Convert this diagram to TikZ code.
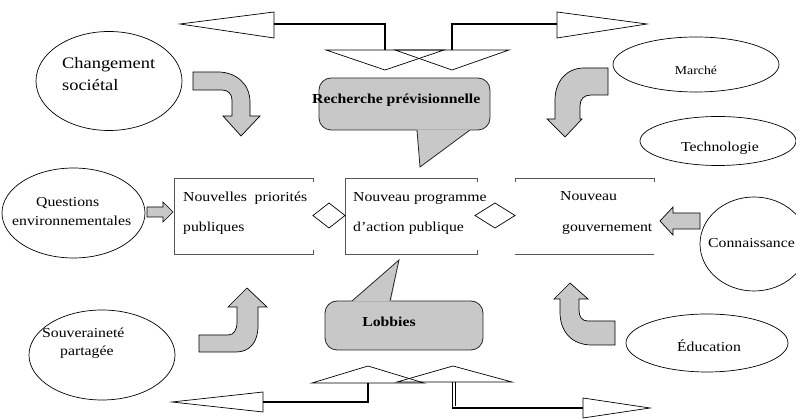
\documentclass[tikz,border=0pt]{standalone}
\usepackage{fontspec}
\setmainfont{Liberation Serif}[FakeStretch=1.15]
\usetikzlibrary{shapes.geometric}
\definecolor{arrowgray}{RGB}{200,200,200}
\definecolor{boxline}{RGB}{85,85,85}
\tikzset{
  oval/.style={ellipse, draw=black, line width=0.7pt, inner sep=0pt},
  lbl/.style={inner sep=0pt, font=\fontsize{13.7}{16}\selectfont},
  boldlbl/.style={inner sep=0pt, font=\fontsize{13.7}{16}\selectfont\bfseries},
  bentarrow/.style={draw=black, fill=arrowgray, line width=0.7pt, line join=miter},
  opentri/.style={draw=black, line width=0.7pt},
  linkline/.style={draw=black, line width=1.3pt},
  boxside/.style={draw=boxline, line width=0.9pt},
  diam/.style={draw=black, line width=0.7pt},
  calloutfill/.style={fill=arrowgray},
  calloutline/.style={draw=black!85, line width=0.8pt},
}
\begin{document}
\begin{tikzpicture}[x=1pt,y=-1pt]
\clip (0,0) rectangle (796,419);

% ---------- ellipses ----------
\node[oval, minimum width=146pt, minimum height=99pt] (chg) at (109,81) {};
\node[oval, minimum width=166pt, minimum height=55pt] (mar) at (696,64.5) {};
\node[oval, minimum width=156pt, minimum height=49pt] (tec) at (718,141) {};
\node[oval, minimum width=143pt, minimum height=90pt] (que) at (73.5,213) {};
\node[oval, minimum width=108pt, minimum height=94pt] (con) at (754,244) {};
\node[oval, minimum width=146pt, minimum height=90pt] (sou) at (102,355) {};
\node[oval, minimum width=162pt, minimum height=58pt] (edu) at (707,343) {};

% ---------- ellipse texts ----------
\node[lbl, font=\fontsize{16}{18}\selectfont, anchor=base west] (chgA) at (62,69) {Changement};
\node[lbl, font=\fontsize{16}{18}\selectfont, anchor=base west] (chgB) at (62,91) {sociétal};
\node[lbl, font=\fontsize{12}{14}\selectfont, anchor=base] (marT) at (696,75) {Marché};
\node[lbl, anchor=base] (tecT) at (720,152) {Technologie};
\node[lbl, anchor=base west] (queA) at (36,207) {Questions};
\node[lbl, anchor=base west] (queB) at (12,226) {environnementales};
\node[lbl, anchor=base west] (conT) at (708,248) {Connaissance};
\node[lbl, anchor=base west] (souA) at (42,338) {Souveraineté};
\node[lbl, anchor=base west] (souB) at (60,356) {partagée};
\node[lbl, anchor=base] (eduT) at (709,352) {Éducation};

% ---------- boxes ----------
\draw[boxside] (313,182) -- (313,178) -- (174,178) -- (174,254) -- (313,254) -- (313,250);
\draw[boxside] (477,182) -- (477,178) -- (345,178) -- (345,254) -- (477,254) -- (477,250);
\draw[boxside] (515,182) -- (515,178) -- (654,178) -- (654,182);
\draw[boxside] (515,254) -- (654,254);
\node[lbl, anchor=base west] (b1A) at (183,202) {\hbox to 124pt{Nouvelles\hfill priorités}};
\node[lbl, anchor=base west] (b1B) at (183,232) {publiques};
\node[lbl, anchor=base west] (b2A) at (353,202) {Nouveau programme};
\node[lbl, anchor=base west] (b2B) at (353,232) {d’action publique};
\node[lbl, anchor=base west] (b3A) at (560,201) {Nouveau};
\node[lbl, anchor=base west] (b3B) at (562,232) {gouvernement};

% ---------- diamonds ----------
\draw[diam] (313,215.5) -- (329,203) -- (345,215.5) -- (329,228) -- cycle;
\draw[diam] (475,215.5) -- (495,203) -- (515,215.5) -- (495,228) -- cycle;

% ---------- bent block arrows ----------
% Changement societal -> down
\draw[bentarrow] (193,72) -- (218,72) .. controls (236,72) and (250,84) .. (250,102)
  -- (250,116) -- (260,116) -- (241,136) -- (223,116) -- (232,116) -- (232,100)
  .. controls (232,94) and (228,90) .. (222,90) -- (193,90) -- cycle;
% Marche -> down-left
\draw[bentarrow] (608,68) -- (584,68) .. controls (566,68) and (555,82) .. (555,100)
  -- (555,119) -- (547,119) -- (565,137) -- (582,119) -- (580,119) -- (580,106)
  .. controls (580,99) and (584,95) .. (591,95) -- (608,95) -- cycle;
% Souverainete -> up
\draw[bentarrow] (199,335) -- (228,335) .. controls (234,335) and (237,330) .. (237,322)
  -- (237,307) -- (228,307) -- (247,288) -- (267,307) -- (258,307) -- (258,326)
  .. controls (258,342) and (250,352) .. (236,352) -- (199,352) -- cycle;
% Education -> up-left
\draw[bentarrow] (615,321) -- (588,321) .. controls (582,321) and (579,317) .. (579,310)
  -- (579,299) -- (588,299) -- (570,283) -- (554,299) -- (560,299) -- (560,312)
  .. controls (560,332) and (572,345) .. (592,345) -- (615,345) -- cycle;
% small arrows
\draw[bentarrow] (147,207) -- (163,207) -- (163,202) -- (173,212) -- (163,222) -- (163,217) -- (147,217) -- cycle;
\draw[bentarrow] (700,213) -- (673,213) -- (673,207) -- (660,221) -- (673,235) -- (673,229) -- (700,229) -- cycle;

% ---------- callouts ----------
\path[calloutfill, rounded corners=12pt] (319,78) rectangle (490,130);
\draw[calloutline, rounded corners=12pt] (319,78) rectangle (490,130);
\fill[arrowgray] (416.5,129.3) -- (420,167) -- (471,129.3) -- cycle;
\draw[calloutline] (417,130) -- (420,167) -- (470,130);
\node[boldlbl, anchor=base west] (rech) at (312,104) {Recherche prévisionnelle};

\path[calloutfill, rounded corners=12pt] (325,301) rectangle (483,350);
\draw[calloutline, rounded corners=12pt] (325,301) rectangle (483,350);
\fill[arrowgray] (351,301.7) -- (399,260) -- (391,301.7) -- cycle;
\draw[calloutline] (352,301) -- (399,260) -- (390,301);
\node[boldlbl, anchor=base] (lob) at (389,327) {Lobbies};

% ---------- top arrows ----------
\coordinate (tlb) at (274,24);
\coordinate (trb) at (557,24);
\coordinate (td1) at (385,50);
\coordinate (td2) at (452,50);
\draw[opentri] (274,12) -- (180,24) -- (274,38) -- cycle;
\draw[opentri] (557,12) -- (647,24) -- (557,38) -- cycle;
\draw[opentri] (326,50) -- (444,50) -- (385,70) -- cycle;
\draw[opentri] (395,50) -- (509,50) -- (452,70) -- cycle;
\draw[linkline] (tlb) -| (td1);
\draw[linkline] (trb) -| (td2);

% ---------- bottom arrows ----------
\coordinate (bu1) at (368,383);
\coordinate (bu2) at (452.5,382);
\coordinate (blb) at (263,402);
\coordinate (brb) at (583,408);
\draw[opentri] (312,383) -- (424,383) -- (368,366) -- cycle;
\draw[opentri] (397,382) -- (512,382) -- (453,366) -- cycle;
\draw[opentri] (263,392) -- (172,402) -- (263,412) -- cycle;
\draw[opentri] (583,398) -- (650,408) -- (583,418) -- cycle;
\draw[linkline] (bu1) |- (blb);
\draw[linkline] (bu2) |- (brb);
\draw[opentri] (455.5,382) -- (455.5,406.5);
\end{tikzpicture}
\end{document}
